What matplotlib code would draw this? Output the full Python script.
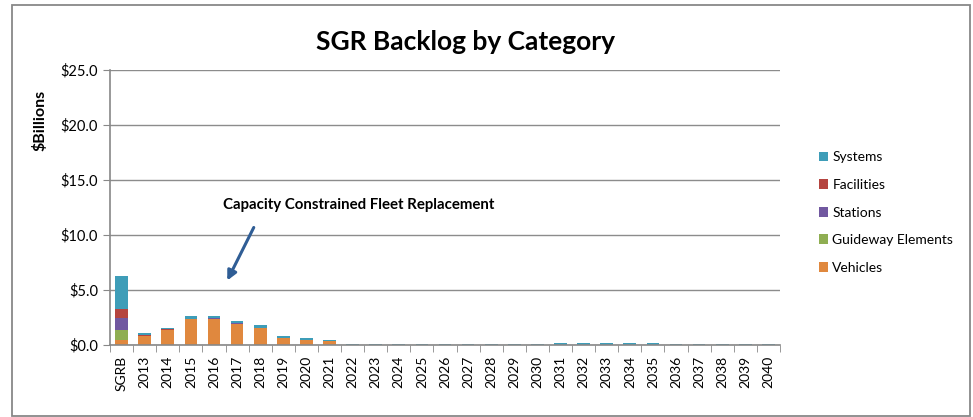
import numpy as np
import matplotlib.pyplot as plt
from matplotlib.patches import Rectangle

# Categories and stacked values ($ billions)
years = ["SGRB"] + [str(y) for y in range(2013, 2041)]
vehicles = [0.5, 0.85, 1.38, 2.35, 2.38, 1.95, 1.53, 0.62, 0.44, 0.32] + [0.0] * 19
guideway = [0.9] + [0.0] * 28
stations = [1.1, 0.0, 0.0, 0.0, 0.05, 0.05] + [0.0] * 23
facilities = [0.8, 0.05, 0.03, 0.0, 0.0] + [0.0] * 24
systems = [3.0, 0.15, 0.18, 0.25, 0.2, 0.15, 0.25, 0.2, 0.18, 0.18,
           0.05, 0.05, 0.05, 0.05, 0.05, 0.05, 0.05, 0.05, 0.05,
           0.2, 0.2, 0.2, 0.2, 0.2,
           0.08, 0.08, 0.08, 0.08, 0.08]

series = [
    ("Vehicles", vehicles, "#E0883E"),
    ("Guideway Elements", guideway, "#8FAE52"),
    ("Stations", stations, "#7158A0"),
    ("Facilities", facilities, "#B5443F"),
    ("Systems", systems, "#3E9DB8"),
]

plt.rcParams["font.family"] = ["Lato", "DejaVu Sans"]

fig = plt.figure(figsize=(9.73, 4.17), dpi=100)
ax = fig.add_axes([110 / 973, 1 - 345 / 417, 670 / 973, 275 / 417])

x = np.arange(len(years))
bottom = np.zeros(len(years))
handles = []
for name, vals, color in series:
    b = ax.bar(x, vals, bottom=bottom, width=0.55, color=color, label=name)
    bottom += np.array(vals)
    handles.append(b)

ax.set_xlim(-0.5, len(years) - 0.5)
ax.set_ylim(0, 25)
ax.set_yticks(np.arange(0, 26, 5))
ax.set_yticklabels([f"${v:.1f}" for v in np.arange(0, 26, 5)], fontsize=10.5)
ax.set_xticks(x)
ax.set_xticklabels(years, rotation=90, fontsize=10)
ax.tick_params(axis="x", length=0, pad=8)
ax.tick_params(axis="y", length=5, color="#888888", direction="out")
ax.set_xticks(np.arange(-0.5, len(years), 1), minor=True)
ax.tick_params(axis="x", which="minor", length=5, color="#888888", direction="out")

ax.yaxis.grid(True, color="#8c8c8c", linewidth=1)
ax.set_axisbelow(True)
for side in ["top", "right"]:
    ax.spines[side].set_visible(False)
for side in ["left", "bottom"]:
    ax.spines[side].set_color("#888888")
    ax.spines[side].set_linewidth(1.2)

fig.text(40 / 973, 1 - 120 / 417, "$Billions", fontsize=11.5, fontweight="bold",
         rotation=90, ha="center", va="center")
fig.text(465 / 973, 1 - 42 / 417, "SGR Backlog by Category", fontsize=19,
         fontweight="bold", ha="center", va="center")

ax.annotate("Capacity Constrained Fleet Replacement",
            xy=(226 / 973, 1 - 283 / 417), xycoords="figure fraction",
            xytext=(359 / 973, 1 - 205 / 417), textcoords="figure fraction",
            fontsize=10.8, fontweight="bold", ha="center", va="center")
ax.annotate("", xy=(226 / 973, 1 - 283 / 417), xycoords="figure fraction",
            xytext=(255 / 973, 1 - 225 / 417), textcoords="figure fraction",
            arrowprops=dict(arrowstyle="-|>", color="#2F5D95", lw=2.2,
                            mutation_scale=14))

leg = ax.legend(handles[::-1], [s[0] for s in series][::-1],
                loc="upper left", bbox_to_anchor=(806 / 973, 1 - 139 / 417),
                bbox_transform=fig.transFigure, frameon=False, fontsize=10,
                handlelength=0.7, handleheight=0.7, handletextpad=0.3,
                labelspacing=1.12)

fig.patches.append(Rectangle((12 / 973, 1 - 416 / 417), 958 / 973, 411 / 417,
                             transform=fig.transFigure, fill=False,
                             edgecolor="#888888", linewidth=1.3))

fig.savefig("out.png", dpi=100)
